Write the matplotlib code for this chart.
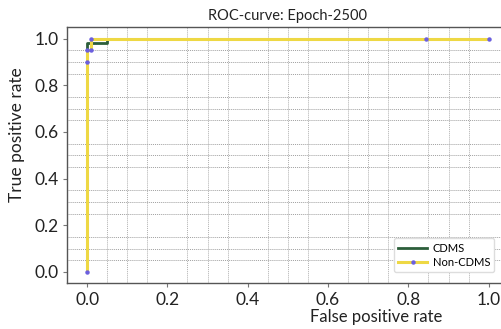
import matplotlib
import matplotlib.pyplot as plt
import numpy as np
from matplotlib.ticker import MultipleLocator

matplotlib.use("Agg")

# ROC points
cdms_fpr = [0.0, 0.0, 0.05, 0.05, 1.0]
cdms_tpr = [0.0, 0.98, 0.98, 1.0, 1.0]

noncdms_fpr = [0.0, 0.0, 0.0, 0.01, 0.01, 0.845, 1.0]
noncdms_tpr = [0.0, 0.9, 0.95, 0.95, 1.0, 1.0, 1.0]

plt.rcParams["font.family"] = ["Lato", "DejaVu Sans"]

fig = plt.figure(figsize=(5.02, 3.29), dpi=100)
ax = fig.add_axes([0.1335, 0.1383, 0.880, 0.7796])

ax.plot(cdms_fpr, cdms_tpr, color="#2c5e3a", linewidth=2.0, label="CDMS", zorder=3)
ax.plot(noncdms_fpr, noncdms_tpr, color="#eed844", linewidth=2.2, marker="o",
        markersize=2.2, markerfacecolor="#6b5fe0", markeredgecolor="#6b5fe0",
        label="Non-CDMS", zorder=4)

ax.set_xlim(-0.05, 1.05)
ax.set_ylim(-0.05, 1.05)
ax.xaxis.set_major_locator(MultipleLocator(0.2))
ax.yaxis.set_major_locator(MultipleLocator(0.2))

# minor grid only, every 0.05, skipping the major positions
for v in np.arange(0.05, 1.0001, 0.05):
    if abs(v / 0.2 - round(v / 0.2)) < 1e-6:
        continue
    ax.axvline(v, color="#b0b0b0", linestyle=(0, (1, 1)), linewidth=0.7, zorder=1)
    ax.axhline(v, color="#a0a0a0", linestyle=(0, (1, 1)), linewidth=0.7, zorder=1)

for s in ax.spines.values():
    s.set_color("#555555")
    s.set_linewidth(1.0)

ax.tick_params(axis="both", which="major", direction="out", length=3, width=0.8,
               color="#777777", labelsize=12.5, labelcolor="#222222", pad=3)

ax.set_title("ROC-curve: Epoch-2500", fontsize=10.5, color="#222222", pad=5)
ax.set_xlabel("False positive rate", fontsize=12, color="#222222")
ax.set_ylabel("True positive rate", fontsize=12.5, color="#222222")
ax.xaxis.set_label_coords(0.70, -0.10)
ax.yaxis.set_label_coords(-0.095, 0.58)

ax.legend(loc="lower right", bbox_to_anchor=(500 / 502, 51 / 329),
          bbox_transform=fig.transFigure, fontsize=8, frameon=True,
          handlelength=2.6, borderpad=0.4, labelspacing=0.3, handletextpad=0.5,
          fancybox=True, framealpha=1.0, edgecolor="#dddddd")

fig.savefig("out.png", dpi=100)
plt.close(fig)
